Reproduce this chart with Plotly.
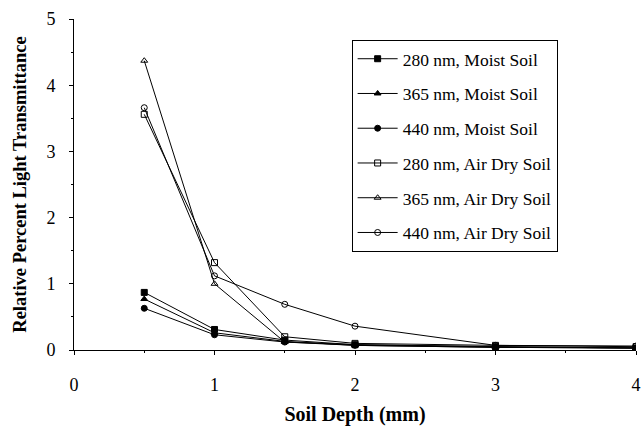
import plotly.graph_objects as go

depth = [0.5, 1, 1.5, 2, 3, 4]
names = ["280 nm, Moist Soil", "365 nm, Moist Soil", "440 nm, Moist Soil",
         "280 nm, Air Dry Soil", "365 nm, Air Dry Soil", "440 nm, Air Dry Soil"]
moist_280 = [0.87, 0.31, 0.15, 0.08, 0.05, 0.03]
moist_365 = [0.77, 0.26, 0.13, 0.07, 0.04, 0.03]
moist_440 = [0.63, 0.23, 0.12, 0.07, 0.04, 0.03]
air_280 = [3.56, 1.32, 0.20, 0.10, 0.07, 0.05]
air_365 = [4.37, 1.00, 0.12, 0.08, 0.05, 0.03]
air_440 = [3.66, 1.12, 0.69, 0.36, 0.07, 0.06]
series = [moist_280, moist_365, moist_440, air_280, air_365, air_440]
symbols = ["square", "triangle-up", "circle", "square-open", "triangle-up-open", "circle-open"]

fig = go.Figure()
for i, (nm, ys, sym) in enumerate(zip(names, series, symbols)):
    fig.add_trace(go.Scatter(
        x=depth, y=ys, name=nm, mode="lines+markers",
        line=dict(color="black", width=1),
        marker=dict(symbol=sym, size=6, color="black", line=dict(color="black", width=1)),
        legendgroup=f"g{i}",
    ))

font_family = "Liberation Serif"
fig.update_layout(
    width=644, height=426,
    margin=dict(l=74, r=3, t=19, b=76),
    paper_bgcolor="white", plot_bgcolor="white",
    font=dict(family=font_family, color="black", size=16),
    showlegend=True,
    legend=dict(
        x=0.494, y=0.937, xanchor="left", yanchor="top",
        bordercolor="black", borderwidth=1, bgcolor="white",
        font=dict(family=font_family, size=17.5, color="black"),
        tracegroupgap=9, itemwidth=40,
    ),
    xaxis=dict(
        range=[0, 4], tickvals=[0, 1, 2, 3, 4], showgrid=False, zeroline=False,
        showline=True, linecolor="black", linewidth=1,
        ticks="outside", ticklen=4, tickcolor="black",
        minor=dict(dtick=0.5, ticks="outside", ticklen=2, tickcolor="black"),
        ticklabelstandoff=14, ticklabeloverflow="allow",
        tickfont=dict(family=font_family, size=18, color="black"),
        title=dict(text="<b>Soil Depth (mm)</b>", standoff=13,
                   font=dict(family=font_family, size=20, color="black")),
    ),
    yaxis=dict(
        range=[0, 5], tickvals=[0, 1, 2, 3, 4, 5], showgrid=False, zeroline=False,
        showline=True, linecolor="black", linewidth=1,
        ticks="outside", ticklen=4, tickcolor="black",
        minor=dict(dtick=0.5, ticks="outside", ticklen=2, tickcolor="black"),
        ticklabelstandoff=10,
        tickfont=dict(family=font_family, size=18, color="black"),
        title=dict(text="<b>Relative Percent Light Transmittance</b>", standoff=14,
                   font=dict(family=font_family, size=18.5, color="black")),
    ),
)
fig.write_html("out.html")
